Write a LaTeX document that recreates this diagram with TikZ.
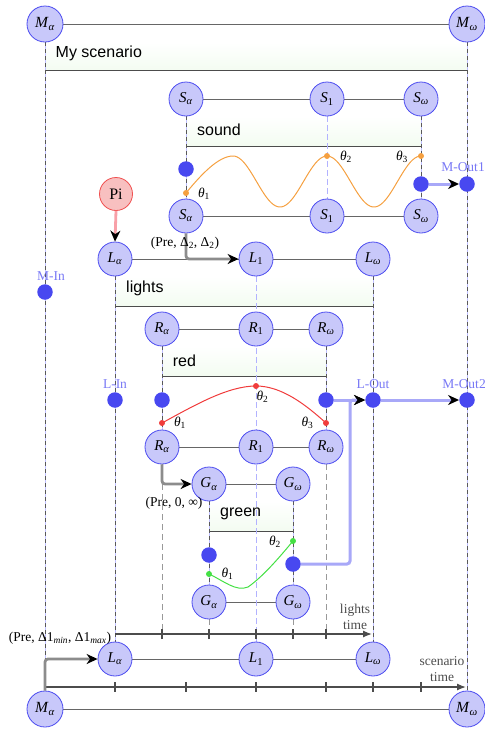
\documentclass[tikz,border=0pt]{standalone}
\usepackage{fontspec}
\setmainfont{Liberation Serif}
\newfontfamily\labelsans{Liberation Sans}
\usetikzlibrary{arrows.meta}
\pgfdeclarelayer{bg}
\pgfsetlayers{bg,main}
\newcommand{\nsub}[2]{\textit{#1}\textsubscript{#2}}
\definecolor{nodefill}{HTML}{C8C8FA}
\definecolor{nodedraw}{HTML}{4C4CF0}
\definecolor{dotblue}{HTML}{4848F0}
\definecolor{lblblue}{HTML}{7878F5}
\definecolor{connblue}{HTML}{A8A8F8}
\definecolor{pifill}{HTML}{F8C0C0}
\definecolor{pidraw}{HTML}{F05050}
\definecolor{piline}{HTML}{F8A0A8}
\definecolor{curveorange}{HTML}{F5A040}
\definecolor{curvered}{HTML}{F03C3C}
\definecolor{curvegreen}{HTML}{44E044}
\definecolor{boxgreen}{HTML}{F3FCF1}
\tikzset{
  st/.style={circle, draw=nodedraw, fill=nodefill, line width=0.8pt, minimum size=34pt, inner sep=0pt, font=\fontsize{15}{17}\selectfont},
  mst/.style={st, minimum size=36pt, font=\fontsize{15.5}{17}\selectfont},
  pist/.style={circle, draw=pidraw, fill=pifill, line width=0.8pt, minimum size=33pt, inner sep=0pt, font=\fontsize{16}{18}\selectfont},
  bdot/.style={circle, fill=dotblue, minimum size=15.5pt, inner sep=0pt},
  cdot/.style={circle, fill=#1, minimum size=6pt, inner sep=0pt},
  lbl/.style={font=\fontsize{13.5}{16}\selectfont, inner sep=0pt},
  blbl/.style={lbl, text=lblblue},
  boxtxt/.style={font=\labelsans\fontsize{16}{19}\selectfont, anchor=base west, inner sep=0pt},
  rowline/.style={draw=black!60, line width=0.9pt},
  boxline/.style={draw=black!70, line width=0.9pt},
  boxfill/.style={top color=white, bottom color=boxgreen},
  gconn/.style={draw=black!45, line width=2.8pt, rounded corners=3pt, -{Stealth[black,length=11pt,width=10pt,inset=3.5pt]}},
  pconn/.style={draw=piline, line width=2.8pt, -{Stealth[black,length=11pt,width=10pt,inset=3.5pt]}},
  bconn/.style={draw=connblue, line width=3pt, rounded corners=3pt, -{Stealth[black,length=11pt,width=10pt,inset=3.5pt]}},
  vline/.style={draw=black!65, line width=0.8pt, dash pattern=on 4pt off 3pt, preaction={draw=blue!25, solid, line width=1pt}},
  bvline/.style={draw=blue!30, line width=1pt, dash pattern=on 6pt off 3pt},
  gvline/.style={draw=black!40, line width=1pt, dash pattern=on 6pt off 4pt},
  axis/.style={draw=black!70, line width=1.3pt, -{Latex[length=9pt,width=7pt]}},
  tick/.style={draw=black!70, line width=1.1pt},
}
\begin{document}
\begin{tikzpicture}[x=1pt,y=-1pt]
\useasboundingbox (0,0) rectangle (485,729);
% ---- nodes
\node[mst] (Ma) at (45,24) {\nsub{M}{\textit{α}}};
\node[mst] (Mw) at (467,24) {\nsub{M}{\textit{ω}}};
\node[mst] (Mab) at (45,709) {\nsub{M}{\textit{α}}};
\node[mst] (Mwb) at (467,709) {\nsub{M}{\textit{ω}}};
\node[st] (Sa) at (186,99) {\nsub{S}{\textit{α}}};
\node[st] (S1) at (327,99) {\nsub{S}{1}};
\node[st] (Sw) at (421,99) {\nsub{S}{\textit{ω}}};
\node[st] (Sab) at (186,216) {\nsub{S}{\textit{α}}};
\node[st] (S1b) at (327,216) {\nsub{S}{1}};
\node[st] (Swb) at (421,216) {\nsub{S}{\textit{ω}}};
\node[pist] (Pi) at (116,194) {Pi};
\node[st] (La) at (115,259) {\nsub{L}{\textit{α}}};
\node[st] (L1) at (256,259) {\nsub{L}{1}};
\node[st] (Lw) at (373,259) {\nsub{L}{\textit{ω}}};
\node[st] (Ra) at (162,329) {\nsub{R}{\textit{α}}};
\node[st] (R1) at (256,329) {\nsub{R}{1}};
\node[st] (Rw) at (326,329) {\nsub{R}{\textit{ω}}};
\node[st] (Rab) at (162,447) {\nsub{R}{\textit{α}}};
\node[st] (R1b) at (256,447) {\nsub{R}{1}};
\node[st] (Rwb) at (326,447) {\nsub{R}{\textit{ω}}};
\node[st] (Ga) at (209,484) {\nsub{G}{\textit{α}}};
\node[st] (Gw) at (293,484) {\nsub{G}{\textit{ω}}};
\node[st] (Gab) at (209,602) {\nsub{G}{\textit{α}}};
\node[st] (Gwb) at (293,602) {\nsub{G}{\textit{ω}}};
\node[st] (Lab) at (115,659) {\nsub{L}{\textit{α}}};
\node[st] (L1b) at (256,659) {\nsub{L}{1}};
\node[st] (Lwb) at (373,659) {\nsub{L}{\textit{ω}}};
% ---- port dots
\node[bdot] (sd1) at (186,169) {};
\node[bdot] (sd2) at (421,184) {};
\node[bdot] (mout1) at (467,184) {};
\node[bdot] (min) at (45,292) {};
\node[bdot] (lin) at (115,400) {};
\node[bdot] (rd1) at (162,400) {};
\node[bdot] (rd2) at (326,400) {};
\node[bdot] (lout) at (373,400) {};
\node[bdot] (mout2) at (467,400) {};
\node[bdot] (gd1) at (209,555) {};
\node[bdot] (gd2) at (293,564) {};
\coordinate (jn) at (350,400);
% ---- axes coordinates
\coordinate (la0) at (115,634);
\coordinate (la1) at (372,634);
\coordinate (tk1) at (162,634);
\coordinate (tk2) at (209,634);
\coordinate (tk3) at (256,634);
\coordinate (tk4) at (293,634);
\coordinate (tk5) at (326,634);
\coordinate (sa0) at (45,687);
\coordinate (sa1) at (466,687);
% ---- background: boxes, row lines, vertical lines
\begin{pgfonlayer}{bg}
\shade[boxfill] (45,42) rectangle (467,70.7);
\draw[boxline] (45,70.7) -- (467,70.7);
\shade[boxfill] (186,116) rectangle (421,146);
\draw[boxline] (186,146) -- (421,146);
\shade[boxfill] (115,276) rectangle (373,306);
\draw[boxline] (115,306) -- (373,306);
\shade[boxfill] (162,346) rectangle (326,376);
\draw[boxline] (162,376) -- (326,376);
\shade[boxfill] (209,501) rectangle (293,531);
\draw[boxline] (209,531) -- (293,531);
\draw[rowline] (Ma) -- (Mw);
\draw[rowline] (Mab) -- (Mwb);
\draw[rowline] (Sa) -- (S1) -- (Sw);
\draw[rowline] (Sab) -- (S1b) -- (Swb);
\draw[rowline] (La) -- (L1) -- (Lw);
\draw[rowline] (Ra) -- (R1) -- (Rw);
\draw[rowline] (Rab) -- (R1b) -- (Rwb);
\draw[rowline] (Ga) -- (Gw);
\draw[rowline] (Gab) -- (Gwb);
\draw[rowline] (Lab) -- (L1b) -- (Lwb);
\draw[vline] (Ma.south) -- (Mab.north);
\draw[vline] (Mw.south) -- (Mwb.north);
\draw[vline] (Sa.south) -- (Sab.north);
\draw[vline] (Sw.south) -- (Swb.north);
\draw[bvline] (S1.south) -- (S1b.north);
\draw[vline] (La.south) -- (Lab.north);
\draw[vline] (Lw.south) -- (Lwb.north);
\draw[bvline] (L1.south) -- (L1b.north);
\draw[vline] (Ra.south) -- (Rab.north);
\draw[vline] (Rw.south) -- (Rwb.north);
\draw[vline] (Ga.south) -- (Gab.north);
\draw[vline] (Gw.south) -- (Gwb.north);
\draw[gvline] (Rab.south) -- (tk1);
\draw[gvline] (Rwb.south) -- (tk5);
\draw[gvline] (Gab.south) -- (tk2);
\draw[gvline] (Gwb.south) -- (tk4);
\end{pgfonlayer}
% ---- box texts
\node[boxtxt] at (55.5,57.3) {My scenario};
\node[boxtxt] at (197,135.7) {sound};
\node[boxtxt] at (126,292) {lights};
\node[boxtxt] at (172.7,366) {red};
\node[boxtxt] at (220,516.7) {green};
% ---- axes
\draw[axis] (la0) -- (la1);
\foreach \t in {tk1,tk2,tk3,tk4,tk5} \draw[tick] ([yshift=-5pt]\t) -- ([yshift=5pt]\t);
\draw[axis] (sa0) -- (sa1);
\foreach \x in {115,186,256,326,373,421} \draw[tick] (\x,682) -- (\x,692);
\node[lbl, align=center, text=black!70] at (355,617) {lights\\time};
\node[lbl, align=center, text=black!70] at (442,669.5) {scenario\\time};
% ---- curves
\node[cdot=curveorange] (o1) at (186,193) {};
\node[cdot=curveorange] (o2) at (327,156) {};
\node[cdot=curveorange] (o3) at (421,156) {};
\begin{pgfonlayer}{bg}
\draw[curveorange, line width=1pt] (o1.center) .. controls (200,176) and (218,156) .. (233,156);
\draw[curveorange, line width=1pt, domain=0:188, samples=90, smooth] plot ({233+\x}, {181.5-25.5*cos(3.8298*\x)});
\draw[curvered, line width=1pt] (162,423) .. controls (195,405) and (228,386) .. (256,386) .. controls (282,386) and (306,405) .. (326,423);
\draw[curvegreen, line width=1pt] (209,574) .. controls (224,581) and (236,592) .. (248,587) .. controls (264,576) and (283,553) .. (293,541);
\end{pgfonlayer}
\node[cdot=curvered] (r1) at (162,423) {};
\node[cdot=curvered] (r2) at (256,386) {};
\node[cdot=curvered] (r3) at (326,423) {};
\node[cdot=curvegreen] (g1) at (209,574) {};
\node[cdot=curvegreen] (g2) at (293,541) {};
\node[lbl] at (204,194) {\nsub{θ}{1}};
\node[lbl] at (346,157) {\nsub{θ}{2}};
\node[lbl] at (402,157) {\nsub{θ}{3}};
\node[lbl] at (180,423) {\nsub{θ}{1}};
\node[lbl] at (262.5,397) {\nsub{θ}{2}};
\node[lbl] at (307.5,423) {\nsub{θ}{3}};
\node[lbl] at (227.5,574) {\nsub{θ}{1}};
\node[lbl] at (275,541.5) {\nsub{θ}{2}};
% ---- port labels
\node[blbl] at (463,167) {M-Out1};
\node[blbl] at (51,276) {M-In};
\node[blbl] at (115,384) {L-In};
\node[blbl] at (373,384) {L-Out};
\node[blbl] at (464,384) {M-Out2};
% ---- connectors
\draw[gconn] (Sab.south) |- (L1.west);
\node[lbl] at (185,243) {(Pre, Δ\textsubscript{2}, Δ\textsubscript{2})};
\draw[pconn] (Pi.south) -- (La.north);
\draw[gconn] (Rab.south) |- (Ga.west);
\node[lbl] at (174,503) {(Pre, 0, ∞)};
\draw[gconn] (Mab.north) |- (Lab.west);
\node[lbl] at (60,638) {(Pre, Δ1\textsubscript{\textit{min}}, Δ1\textsubscript{\textit{max}})};
\draw[bconn] (sd2) -- (mout1);
\draw[bconn] (rd2) -- (lout);
\draw[bconn] (gd2) -| (jn) -- (lout);
\draw[bconn] (lout) -- (mout2);
\end{tikzpicture}
\end{document}
